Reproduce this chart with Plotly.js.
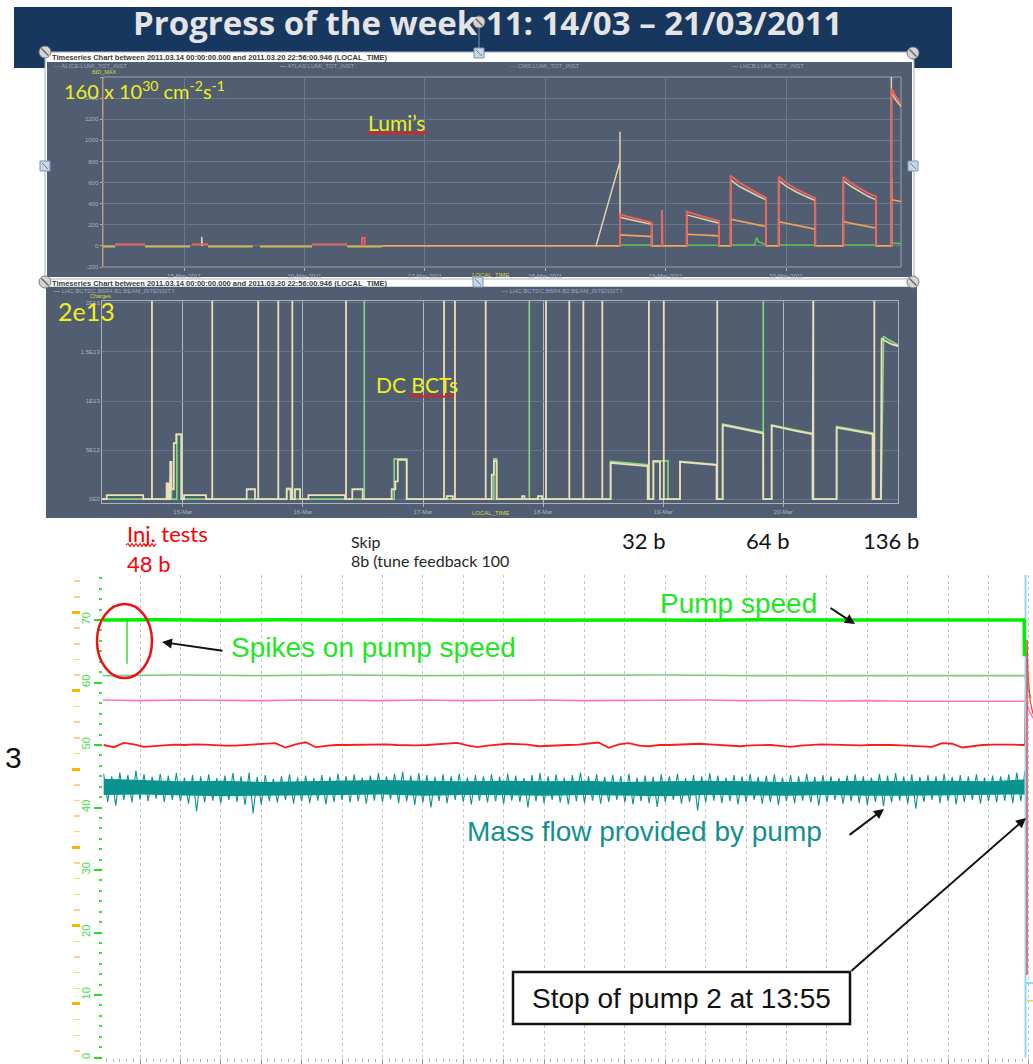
<!DOCTYPE html>
<html><head><meta charset="utf-8">
<script src="https://cdn.plot.ly/plotly-3.0.1.min.js"></script>
<style>html,body{margin:0;padding:0;background:#fff;}#chart{width:1033px;height:1064px;}</style>
</head><body><div id="chart"></div>
<script>
// ---------------- DATA ----------------
// Lumi chart (x = days since 14-Mar-2011 00:00, y = 1e30 cm-2 s-1)
const lumiDayTicks = [1, 2, 3, 4, 5, 6];
const lumiDayLabels = ['15-Mar-2011', '16-Mar-2011', '17-Mar-2011', '18-Mar-2011', '19-Mar-2011', '20-Mar-2011'];
const lumiTickVals = [-200, 0, 200, 400, 600, 800, 1000, 1200, 1400, 1600];
const lumiTickText = ['-200', '0', '200', '400', '600', '800', '1000', '1200', '1400', ''];
const cmsT = [0.427,0.676,null,1.066,1.199,null,2.063,2.354,null,2.478,2.478,2.500,2.500,null,
  4.621,4.621,4.68,4.75,4.82,4.884,4.884,null,4.970,4.970,4.975,4.975,null,
  5.175,5.175,5.24,5.31,5.38,5.443,5.443,null,5.540,5.540,5.61,5.69,5.77,5.834,5.834,null,
  5.939,5.939,6.01,6.09,6.17,6.243,6.243,null,6.476,6.476,6.54,6.61,6.68,6.747,6.747,null,
  6.877,6.877,6.91,6.955];
const cmsV = [16,16,null,16,16,null,16,16,null,0,76,76,0,null,
  0,300,280,260,240,221,0,null,0,341,341,0,null,
  0,325,300,275,255,237,0,null,0,666,600,545,495,457,0,null,
  0,656,590,535,490,451,0,null,0,656,595,545,500,467,0,null,
  0,1490,1420,1340];
const atlasT = [1.147,1.147,1.152,1.152,null,
  4.422,4.621,4.621,4.621,4.68,4.75,4.82,4.884,4.884,null,4.968,4.968,4.973,4.973,null,
  5.175,5.175,5.24,5.31,5.38,5.443,5.443,null,5.540,5.540,5.61,5.69,5.77,5.834,5.834,null,
  5.939,5.939,6.01,6.09,6.17,6.243,6.243,null,6.476,6.476,6.54,6.61,6.68,6.747,6.747,null,
  6.875,6.875,6.875,6.91,6.955];
const atlasV = [0,85,85,0,null,
  0,798,1082,272,255,238,220,205,0,null,0,330,330,0,null,
  0,294,275,252,232,215,0,null,0,625,565,515,470,436,0,null,
  0,618,560,508,465,429,0,null,0,618,565,515,470,436,0,null,
  0,1700,1450,1385,1320];
const lhcbT = [0.327,0.427,null,0.676,1.050,null,1.199,1.572,null,1.630,2.063,null,2.354,2.644,null,
  2.644,4.621,4.621,4.70,4.80,4.884,4.884,5.175,5.175,5.30,5.443,5.443,5.540,5.540,5.65,5.75,5.834,5.834,
  5.939,5.939,6.05,6.15,6.243,6.243,6.476,6.476,6.58,6.68,6.747,6.747,6.877,6.877,6.880,6.955];
const lhcbV = [-4,-4,null,-4,-4,null,-4,-4,null,-4,-4,null,-4,-4,null,
  0,0,104,98,93,88,0,0,110,102,95,0,0,253,225,202,183,0,
  0,230,205,182,158,0,0,230,205,185,167,0,0,644,436,420];
const aliceT = [0.327,0.427,null,0.676,1.050,null,1.199,1.572,null,1.630,2.063,null,2.354,2.644,null,
  4.621,4.884,null,5.175,5.443,null,5.540,5.740,5.752,5.761,5.770,5.834,null,5.939,6.243,null,6.476,6.747,null,6.877,6.880,6.955];
const aliceV = [-10,-10,null,-10,-10,null,-10,-10,null,-10,-10,null,-10,-10,null,
  9,9,null,5,5,null,8,8,70,73,40,8,null,8,8,null,8,8,null,95,30,20];

// DC BCT chart (x = days since 14-Mar-2011 00:00, y = charges)
const bctDayLabels = ['15-Mar', '16-Mar', '17-Mar', '18-Mar', '19-Mar', '20-Mar'];
const bctTickVals = [0, 5e12, 1e13, 1.5e13, 2e13];
const bctTickText = ['0E0', '5E12', '1E13', '1.5E13', '2E13'];
const b1T = [0.327,0.366,0.366,0.670,0.670, 0.743,0.743,0.743,
  0.865,0.865,0.880,0.880,0.895,0.895,0.905,0.905,0.925,0.925,0.945,0.945,0.990,0.990,
  1.010,1.010,1.193,1.193, 1.245,1.245,1.245, 1.532,1.532,1.601,1.601, 1.628,1.628,1.628,
  1.795,1.795,1.795, 1.865,1.865,1.898,1.898, 1.912,1.912,1.912, 1.934,1.934,1.976,1.976,
  2.045,2.045,2.350,2.350, 2.359,2.359,2.359, 2.411,2.411,2.498,2.498,
  2.739,2.739,2.770,2.770,2.790,2.790,2.864,2.864, 3.175,3.175,3.175, 3.198,3.198,3.248,3.248,
  3.266,3.266,3.266, 3.522,3.522,3.522, 3.572,3.572,3.590,3.590,3.613,3.613,
  3.825,3.825,3.845,3.845, 3.957,3.957,3.991,3.991, 4.024,4.024,4.024, 4.218,4.218,4.218,
  4.335,4.335,4.335, 4.493,4.493,4.493, 4.562,4.562,4.65,4.75,4.871,4.871, 4.881,4.881,4.881,
  4.918,4.918,4.973,4.973, 5.005,5.005,5.005, 5.140,5.140,5.25,5.35,5.445,5.445, 5.450,5.450,5.450,
  5.495,5.495,5.60,5.72,5.833,5.833, 5.903,5.903,6.00,6.12,6.244,6.244, 6.250,6.250,6.250,
  6.444,6.444,6.55,6.65,6.744,6.744, 6.758,6.758,6.758, 6.812,6.819,6.84,6.87,6.90,6.957];
const b1V = [0,0,4.1e11,4.1e11,0, 0,2.5e13,0,
  0,1.6e12,1.6e12,0,0,3.8e12,3.8e12,1.0e12,1.0e12,5.7e12,5.7e12,6.6e12,6.6e12,0,
  0,4.1e11,4.1e11,0, 0,2.5e13,0, 0,1e12,1e12,0, 0,2.5e13,0,
  0,2.5e13,0, 0,1e12,1e12,0, 0,2.5e13,0, 0,1e12,1e12,0,
  0,4.1e11,4.1e11,0, 0,2.5e13,0, 0,1e12,1e12,0,
  0,1e12,1e12,1.8e12,1.8e12,4.0e12,4.0e12,0, 0,2.5e13,0, 0,3e11,3e11,0,
  0,2.5e13,0, 0,2.5e13,0, 0,2.5e12,2.5e12,3.9e12,3.9e12,0,
  0,3e11,3e11,0, 0,3e11,3e11,0, 0,2.5e13,0, 0,2.5e13,0,
  0,2.5e13,0, 0,2.5e13,0, 0,3.7e12,3.6e12,3.5e12,3.37e12,0, 0,2.5e13,0,
  0,3.85e12,3.8e12,0, 0,2.5e13,0, 0,3.8e12,3.68e12,3.57e12,3.47e12,0, 0,2.5e13,0,
  0,7.55e12,7.3e12,7.0e12,6.7e12,0, 0,7.48e12,7.2e12,6.9e12,6.63e12,0, 0,2.5e13,0,
  0,7.3e12,7.05e12,6.85e12,6.63e12,0, 0,2.5e13,0, 0,1.64e13,1.62e13,1.6e13,1.58e13,1.56e13];
const b2T = [0.327,0.895,0.895,0.905,0.905,0.950,0.950,0.985,0.985,
  1.865,1.865,1.898,1.898, 2.511,2.511,2.511, 2.760,2.760,2.864,2.864,
  3.590,3.590,3.613,3.613, 3.885,3.885,3.885, 4.562,4.562,4.871,4.871,
  4.918,4.918,5.040,5.040, 5.140,5.140,5.445,5.445, 5.495,5.495,5.833,5.833,5.833,
  5.903,5.903,6.244,6.244, 6.444,6.444,6.744,6.744, 6.815,6.820,6.825,6.830,6.835,6.870,6.957];
const b2V = [0,0,2.2e12,2.2e12,0,0,6.6e12,6.6e12,0,
  0,1.1e12,1.1e12,0, 0,2.5e13,0, 0,4.1e12,4.1e12,0,
  0,4.1e12,4.1e12,0, 0,2.5e13,0, 0,3.85e12,3.5e12,0,
  0,3.9e12,3.9e12,0, 0,3.85e12,3.52e12,0, 0,7.65e12,6.8e12,2.5e13,0,
  0,7.55e12,6.7e12,0, 0,7.4e12,6.75e12,0, 0,5e12,9e12,1.2e13,1.66e13,1.63e13,1.57e13];

// Cryo pump chart (x = time in grid divisions, y = green scale)
const pumpT = [0.08,1.5,3,4.5,6,7.5,9,10.5,12,13.5,15,16.5,18,19.5,21,22.5,22.88,22.89];
const pumpV = [70.0,70.05,69.95,70.05,70.0,70.05,69.95,70.0,70.05,70.0,69.95,70.05,70.0,70.0,70.05,70.0,70.0,64.2];
const spikeT = [0.678, 0.678];
const spikeV = [70.0, 63.0];
const pump2T = [0.08,2,4,6,8,10,12,14,16,18,20,22,22.9,22.97,23.05];
const pump2V = [61.1,61.2,61.1,61.2,61.1,61.15,61.1,61.2,61.1,61.15,61.1,61.1,61.1,59.2,57.5];
const pinkT = [0.08,1,2,3,4,5,6,7,8,9,10,11,12,13,14,15,16,17,18,19,20,21,22,22.92,23.0,23.1];
const pinkV = [57.2,57.1,57.2,57.15,57.1,57.2,57.15,57.1,57.2,57.1,57.15,57.2,57.1,57.15,57.1,57.2,57.1,57.15,57.05,57.1,57.0,57.05,57.0,57.0,55.5,54.3];
const redT0 = 0.1, redStep = 0.25;
const redV = [50.0,49.65,50.35,50.1,49.7,49.85,50.0,50.05,50.0,50.1,50.05,49.95,49.9,49.9,50.0,50.05,
  50.1,50.3,49.6,50.1,50.45,49.65,49.85,50.0,50.0,50.05,50.0,50.1,50.1,50.0,49.95,49.95,
  50.0,50.1,50.25,50.35,49.95,49.65,49.9,50.05,50.2,50.15,50.05,49.8,49.9,50.0,50.0,50.05,
  50.2,50.4,49.55,50.1,50.3,49.9,49.8,50.0,50.0,50.05,50.1,50.2,50.1,50.0,49.9,49.8,
  49.95,50.0,50.0,49.85,49.7,49.9,50.0,50.1,50.05,50.0,50.0,49.95,50.0,50.05,50.0,49.95,
  49.9,49.85,49.7,50.3,50.2,49.6,49.85,50.0,50.05,50.1,50.05,50.0];
const redStopT = [22.9, 22.945, 22.945];
const redStopV = [50.0, 66.8, 13.2];
const redTailT = [22.95, 22.98, 23.03, 23.1];
const redTailV = [66.5, 61, 57, 55];
const flowT0 = 0.1, flowStep = 0.2;
const flowPeak = [45.4,45.0,45.6,45.2,45.9,45.3,44.9,45.4,45.1,45.5,44.8,45.2,45.0,45.3,44.7,45.1,
  45.5,45.0,45.6,44.9,45.2,44.6,45.0,45.3,44.8,45.1,44.7,45.2,44.9,45.4,45.0,45.3,44.8,45.1,
  45.5,45.0,45.4,45.7,45.1,45.5,45.2,44.9,45.3,45.0,45.4,44.8,45.2,45.0,45.3,44.9,45.4,45.1,
  44.7,45.2,45.5,45.0,45.3,44.8,45.2,45.6,45.0,45.3,44.9,45.2,45.0,45.4,44.8,45.1,44.9,45.3,
  45.0,45.4,44.7,45.2,45.0,45.5,45.1,44.8,45.2,45.0,45.4,44.9,45.1,45.3,44.8,45.2,45.0,45.4,
  44.9,45.2,45.0,44.7,45.1,45.3,45.0,44.8,45.4,45.1,45.5,45.0,45.3,44.9,45.2,45.0,45.4,44.9,
  45.2,45.0,45.3,44.8,45.1,45.0,45.3,45.6,45.8];
const flowDip = [40.9,40.3,41.2,40.8,41.3,41.0,41.4,40.9,41.2,41.0,40.6,39.4,40.8,41.1,40.7,41.2,
  40.9,40.4,39.1,40.5,41.0,40.8,41.2,40.6,41.0,40.7,41.1,40.5,40.9,41.2,40.8,41.0,40.6,41.1,
  40.9,41.3,40.7,41.0,40.4,40.8,40.0,41.0,40.7,41.2,40.9,40.5,41.1,40.8,41.0,40.6,41.1,40.9,
  40.0,41.0,40.7,41.2,40.8,40.5,41.0,40.7,41.1,40.6,40.9,41.2,40.8,40.5,41.0,40.7,40.1,40.9,
  41.2,40.6,40.9,39.5,40.8,41.1,40.7,41.0,40.5,40.9,41.2,40.6,40.9,40.4,41.0,40.7,41.1,40.8,
  40.3,40.9,41.2,40.6,41.0,40.7,40.4,40.9,40.2,40.8,41.1,40.6,39.8,40.9,41.2,40.7,41.0,40.5,
  40.9,41.2,40.6,41.0,40.8,41.1,40.7,41.0];
const coreT = [0.1,1,2,3,4,5,6,7,8,9,10,11,12,13,14,15,16,17,18,19,20,21,22,22.9];
const coreTop = [44.6,44.4,44.2,44.3,44.1,44.2,44.3,44.4,44.3,44.2,44.3,44.2,44.3,44.1,44.2,44.3,44.2,44.1,44.2,44.3,44.2,44.3,44.2,44.5];
const coreBot = [42.0,42.1,41.9,41.8,41.9,42.0,42.0,42.1,41.9,42.0,42.0,41.9,42.0,41.9,41.8,42.0,42.0,41.9,42.0,41.9,41.9,42.0,42.0,42.1];
const cyanT = [22.915, 22.915, null, 22.915, 23.1];
const cyanV = [77.2, 0, null, 11.9, 11.9];
const orangeT = [22.95, 23.1];
const orangeV = [1.04, 1.04];

// ---------------- BUILD ----------------
const W = 1033, H = 1064;
const px = v => v / W;
const py = v => 1 - v / H;

const redX = redV.map((_, i) => redT0 + i * redStep).concat(redStopT);
const redY = redV.concat(redStopV);
const flowX = [], flowY = [];
flowPeak.forEach((v, i) => {
  flowX.push(flowT0 + i * flowStep); flowY.push(v);
  if (i < flowDip.length) { flowX.push(flowT0 + i * flowStep + flowStep / 2); flowY.push(flowDip[i]); }
});
const coreX = coreT.concat(coreT.slice().reverse());
const coreY = coreTop.concat(coreBot.slice().reverse());

const ln = (x, y, color, width, xa, ya, extra) => Object.assign({
  type: 'scatter', mode: 'lines', x: x, y: y, xaxis: xa, yaxis: ya,
  line: {color: color, width: width}, hoverinfo: 'skip', showlegend: false
}, extra || {});

const traces = [
  ln(aliceT, aliceV, '#5cc24f', 1.5, 'x', 'y'),
  ln(lhcbT, lhcbV, '#f4a35a', 1.6, 'x', 'y'),
  ln(atlasT, atlasV, '#e4d2aa', 1.5, 'x', 'y'),
  ln(cmsT, cmsV, '#f2605a', 1.8, 'x', 'y'),
  ln(b2T, b2V, '#86d880', 1.6, 'x2', 'y2'),
  ln(b1T, b1V, '#eadfb8', 1.8, 'x2', 'y2'),
  ln(coreX, coreY, '#0a9490', 0, 'x3', 'y3', {fill: 'toself', fillcolor: '#0a9490'}),
  ln(flowX, flowY, '#0a9490', 1.1, 'x3', 'y3'),
  ln(pinkT, pinkV, '#ff78c0', 1.6, 'x3', 'y3'),
  ln(pump2T, pump2V, '#7ccc7c', 1.6, 'x3', 'y3'),
  ln(redX, redY, '#ff1a1a', 1.8, 'x3', 'y3'),
  ln(redTailT, redTailV, '#ff3a3a', 1.2, 'x3', 'y3'),
  ln(cyanT, cyanV, '#8fd8ee', 2, 'x3', 'y3'),
  ln(orangeT, orangeV, '#ffc75a', 1.5, 'x3', 'y4'),
  ln(spikeT, spikeV, '#33dd33', 1.5, 'x3', 'y3'),
  ln(pumpT, pumpV, '#00ee00', 3.5, 'x3', 'y3')
];

const tiny = {size: 6, color: '#a9b2bf', family: 'Liberation Sans, Arial'};
const layout = {
  width: W, height: H, autosize: false,
  margin: {l: 0, r: 0, t: 0, b: 0, pad: 0},
  paper_bgcolor: '#ffffff', plot_bgcolor: 'rgba(0,0,0,0)',
  showlegend: false,
  xaxis: {domain: [px(103), px(901)], range: [0.327, 6.955], anchor: 'y',
    tickvals: lumiDayTicks, ticktext: lumiDayLabels, tickfont: tiny,
    showgrid: true, gridcolor: '#6c788b', gridwidth: 1, zeroline: false, showline: false,
    ticks: 'outside', ticklen: 3, tickcolor: '#a9b2bf'},
  yaxis: {domain: [py(267), py(77)], range: [-200, 1600], anchor: 'x',
    tickvals: lumiTickVals, ticktext: lumiTickText,
    tickfont: tiny, showgrid: true, gridcolor: '#6c788b', gridwidth: 1, zeroline: false,
    showline: true, linecolor: '#c8946a', linewidth: 1.5, ticks: 'outside', ticklen: 2, tickcolor: '#a9b2bf'},
  xaxis2: {domain: [px(102), px(898)], range: [0.327, 6.955], anchor: 'y2',
    tickvals: lumiDayTicks, ticktext: bctDayLabels, tickfont: tiny,
    showgrid: true, gridcolor: '#b4bcc7', gridwidth: 1, zeroline: false,
    showline: true, mirror: true, linecolor: '#aab2bd', ticks: 'outside', ticklen: 3, tickcolor: '#a9b2bf'},
  yaxis2: {domain: [py(503), py(301)], range: [-4e11, 2.02e13], anchor: 'x2',
    tickvals: bctTickVals, ticktext: bctTickText, tickfont: tiny,
    showgrid: true, gridcolor: '#67748a', gridwidth: 1, zeroline: false,
    showline: true, mirror: true, linecolor: '#aab2bd', ticks: ''},
  xaxis3: {domain: [px(103), 1], range: [0.084, 23.1], anchor: 'y3', dtick: 1, tick0: 0,
    showticklabels: false, showgrid: true, gridcolor: '#c6c6c6', griddash: 'dot', gridwidth: 1,
    zeroline: false, showline: false, ticks: 'outside', ticklen: 5, tickcolor: '#9a9a9a',
    minor: {dtick: 1 / 6, ticklen: 3, tickcolor: '#b0b0b0', showgrid: false}},
  yaxis3: {domain: [py(1058), py(575)], range: [-0.08, 77.2], anchor: 'x3', dtick: 10, tick0: 0,
    ticks: 'outside', ticklen: 8, tickwidth: 2, tickcolor: '#22dd22', tickangle: -90,
    tickfont: {size: 11, color: '#44dd44', family: 'Liberation Sans, Arial'},
    minor: {dtick: 10 / 6, ticklen: 3, tickwidth: 2, tickcolor: '#44dd44', showgrid: false},
    showgrid: false, zeroline: false, showline: false},
  yaxis4: {overlaying: 'y3', anchor: 'free', position: px(80), side: 'left',
    range: [0.31, 6.479], dtick: 1, tick0: 0, showticklabels: false,
    ticks: 'outside', ticklen: 8, tickwidth: 3, tickcolor: '#ffb300',
    minor: {dtick: 0.2, ticklen: 6, tickwidth: 1.5, tickcolor: '#ffd27f', showgrid: false},
    showgrid: false, zeroline: false, showline: false}
};

// ---- shapes ----
const rect = (x0, y0, x1, y1, fill, lineColor, lw, layer) => ({
  type: 'rect', xref: 'paper', yref: 'paper', x0: px(x0), x1: px(x1), y0: py(y1), y1: py(y0),
  fillcolor: fill, line: {color: lineColor || 'rgba(0,0,0,0)', width: lw || 0}, layer: layer || 'below'
});
const wavy = (x0, x1, y) => {
  let d = 'M' + px(x0) + ',' + py(y);
  let up = true;
  for (let x = x0 + 2; x <= x1; x += 2) { d += ' L' + px(x) + ',' + py(y + (up ? -1.4 : 1.4)); up = !up; }
  return {type: 'path', xref: 'paper', yref: 'paper', path: d, line: {color: '#e02020', width: 1.2}, layer: 'above'};
};
const circleHandle = (cx, cy) => [
  {type: 'circle', xref: 'paper', yref: 'paper', x0: px(cx - 6), x1: px(cx + 6), y0: py(cy + 6), y1: py(cy - 6),
    fillcolor: '#d4d4d4', line: {color: '#7a7a7a', width: 1}, layer: 'above'},
  {type: 'line', xref: 'paper', yref: 'paper', x0: px(cx - 3.5), x1: px(cx + 3.5), y0: py(cy - 3.5), y1: py(cy + 3.5),
    line: {color: '#6a6a6a', width: 1.5}, layer: 'above'}
];
const squareHandle = (cx, cy) => [
  {type: 'rect', xref: 'paper', yref: 'paper', x0: px(cx - 5), x1: px(cx + 5), y0: py(cy + 5), y1: py(cy - 5),
    fillcolor: '#c9d6e6', line: {color: '#7d95b5', width: 1}, layer: 'above'},
  {type: 'line', xref: 'paper', yref: 'paper', x0: px(cx - 3), x1: px(cx + 3), y0: py(cy - 3), y1: py(cy + 3),
    line: {color: '#6a7f9a', width: 1}, layer: 'above'}
];

const shapes = [
  rect(14, 7, 952, 68, '#17375e'),
  rect(45, 52, 914, 281, '#ffffff', '#9db0c8', 1),
  rect(47, 62, 912, 277, '#515e72'),
  rect(45, 279, 913, 287, '#ffffff', '#9db0c8', 1),
  rect(46, 287, 917, 518, '#515e72'),
  rect(103, 77, 901, 267, 'rgba(0,0,0,0)', '#98a2b0', 1),
  {type: 'line', xref: 'paper', yref: 'paper', x0: px(479), x1: px(479), y0: py(28), y1: py(48),
    line: {color: '#7d95b5', width: 1}, layer: 'above'},
  ...circleHandle(479, 22), ...squareHandle(479, 53),
  ...circleHandle(45, 52), ...circleHandle(913, 53),
  ...squareHandle(45, 166), ...squareHandle(913, 166),
  ...circleHandle(45, 282), ...circleHandle(913, 282), ...squareHandle(478, 282),
  wavy(367, 427, 133), wavy(408, 455, 396), wavy(126, 157, 545),
  {type: 'circle', xref: 'paper', yref: 'paper', x0: px(97), x1: px(152), y0: py(678), y1: py(604),
    line: {color: '#ee1111', width: 2.5}, layer: 'above'},
  rect(513, 972, 850, 1024, '#ffffff', '#111111', 2.5, 'above')
];

// ---- annotations ----
const txt = (x, y, text, size, color, family, extra) => Object.assign({
  xref: 'paper', yref: 'paper', x: px(x), y: py(y), text: text, showarrow: false,
  xanchor: 'left', yanchor: 'middle', font: {size: size, color: color, family: family}
}, extra || {});
const arrow = (tx, ty, hx, hy) => ({
  xref: 'paper', yref: 'paper', x: px(hx), y: py(hy), ax: tx - hx, ay: ty - hy, axref: 'pixel', ayref: 'pixel',
  text: '', showarrow: true, arrowhead: 2, arrowsize: 1, arrowwidth: 2, arrowcolor: '#111111',
  standoff: 0, startstandoff: 0
});
const LATO = 'Lato, Open Sans, sans-serif';
const ARIAL = 'Liberation Sans, Arial, sans-serif';
const YEL = '#eef01c';
const hdr = 'Timeseries Chart between 2011.03.14 00:00:00.000 and 2011.03.20 22:56:00.946 (LOCAL_TIME)';
const leg = (c, t) => '<span style="color:' + c + '">—</span> ' + t;

const annotations = [
  txt(487, 23, 'Progress of the week 11: 14/03 – 21/03/2011', 33, '#e6e6e6', 'Open Sans, sans-serif', {xanchor: 'center', font: {size: 33, color: '#e4e4e4', family: 'Open Sans, sans-serif', weight: 700}}),
  txt(50, 57, hdr, 7.5, '#2a2a2a', ARIAL, {font: {size: 7.5, color: '#3a3a3a', family: ARIAL, weight: 700}}),
  txt(50, 283, hdr, 7.5, '#2a2a2a', ARIAL, {font: {size: 7.5, color: '#3a3a3a', family: ARIAL, weight: 700}}),
  txt(52, 66, leg('#5cc24f', 'ALICE:LUMI_TOT_INST'), 6, '#9aa5b4', ARIAL),
  txt(278, 66, leg('#e4d2aa', 'ATLAS:LUMI_TOT_INST'), 6, '#9aa5b4', ARIAL),
  txt(508, 66, leg('#f2605a', 'CMS:LUMI_TOT_INST'), 6, '#9aa5b4', ARIAL),
  txt(730, 66, leg('#f4a35a', 'LHCB:LUMI_TOT_INST'), 6, '#9aa5b4', ARIAL),
  txt(52, 291, leg('#eadfb8', 'LHC.BCTDC.B6R4.B1:BEAM_INTENSITY'), 6, '#9aa5b4', ARIAL),
  txt(500, 291, leg('#86d880', 'LHC.BCTDC.B6R4.B2:BEAM_INTENSITY'), 6, '#9aa5b4', ARIAL),
  txt(90, 72, 'BID_MAX', 5.5, '#d6d84a', ARIAL),
  txt(88, 296, 'Charges', 5.5, '#d6d84a', ARIAL),
  txt(490, 275, 'LOCAL_TIME', 6, '#d6d84a', ARIAL, {xanchor: 'center'}),
  txt(490, 513, 'LOCAL_TIME', 6, '#d6d84a', ARIAL, {xanchor: 'center'}),
  txt(62, 90, '160 x 10<sup>30</sup> cm<sup>-2</sup>s<sup>-1</sup>', 20, YEL, LATO),
  txt(366, 122, 'Lumi’s', 21, YEL, LATO),
  txt(56, 311, '2e13', 25, YEL, LATO),
  txt(374, 384, 'DC BCTs', 21, YEL, LATO),
  txt(125, 533, 'Inj. tests', 22, '#ff0000', LATO),
  txt(125, 563, '48 b', 22, '#ff0000', LATO),
  txt(349, 541, 'Skip', 16, '#262626', LATO),
  txt(349, 560, '8b (tune feedback 100', 16, '#262626', LATO),
  txt(620, 540, '32 b', 22, '#111111', LATO),
  txt(744, 540, '64 b', 22, '#111111', LATO),
  txt(861, 540, '136 b', 22, '#111111', LATO),
  txt(3, 757, '3', 30, '#111111', ARIAL),
  txt(229, 647, 'Spikes on pump speed', 28, '#22e622', ARIAL),
  txt(658, 603, 'Pump speed', 28, '#22e622', ARIAL),
  txt(465, 831, 'Mass flow provided by pump', 28, '#13908f', ARIAL),
  txt(681, 998, 'Stop of pump 2 at 13:55', 28, '#111111', ARIAL, {xanchor: 'center'}),
  arrow(224, 651, 162, 642),
  arrow(829, 607, 855, 624),
  arrow(848, 836, 884, 809),
  arrow(850, 972, 1026, 818)
];

layout.shapes = shapes;
layout.annotations = annotations;
Plotly.newPlot('chart', traces, layout, {staticPlot: true, displayModeBar: false});
</script></body></html>
